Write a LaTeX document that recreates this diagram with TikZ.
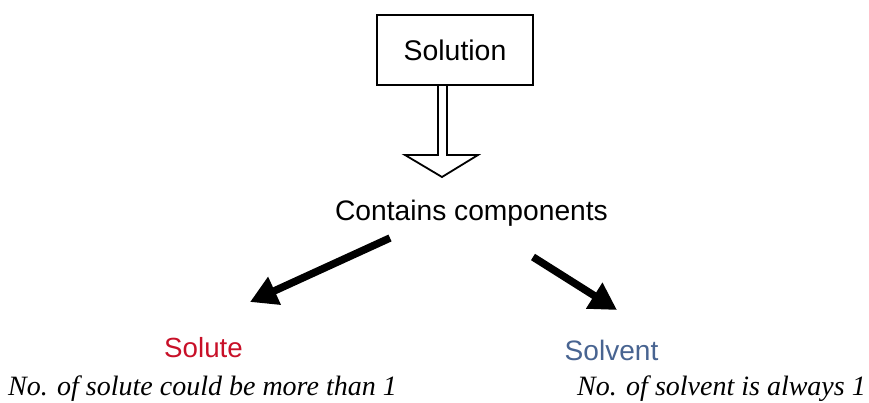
\documentclass[tikz,border=0pt]{standalone}
\usepackage{fontspec}
\setmainfont{Liberation Sans}
\newfontfamily\itserif{Liberation Serif}
\usetikzlibrary{arrows.meta}
\definecolor{soluteRed}{RGB}{200,16,40}
\definecolor{solventBlue}{RGB}{72,100,145}
\tikzset{
  boxnode/.style={draw, line width=2pt, minimum width=156pt, minimum height=70pt, inner sep=0pt, font=\fontsize{28.4}{30}\selectfont},
  labelnode/.style={inner sep=0pt, anchor=base},
  thickarrow/.style={line width=7.5pt, -{Triangle[length=27pt,width=29pt]}},
  notetext/.style={inner sep=0pt, anchor=base, font=\itserif\itshape\fontsize{28}{30}\selectfont}
}
\begin{document}
\begin{tikzpicture}[x=1pt,y=-1pt]
\useasboundingbox (0,0) rectangle (869,402);
\node[boxnode] (solution) at (455,50) {Solution};
\coordinate (shaftL) at (438,85);
\coordinate (shaftR) at (447,85);
\coordinate (tip) at (442,177);
\draw[line width=1.8pt, line join=miter] (shaftL) -- (438,155) -- (405,155) -- (tip) -- (478,155) -- (447,155) -- (shaftR);
\node[labelnode, font=\fontsize{28.2}{30}\selectfont] (contains) at (471.5,220) {Contains components};
\node[labelnode, font=\fontsize{27.7}{30}\selectfont, text=soluteRed] (solute) at (203.5,357) {Solute};
\node[labelnode, font=\fontsize{28.1}{30}\selectfont, text=solventBlue] (solvent) at (611.5,360) {Solvent};
\coordinate (lstart) at (390,238);
\coordinate (lend) at (250,302);
\coordinate (rstart) at (533,257);
\coordinate (rend) at (617,310);
\draw[thickarrow] (lstart) -- (lend);
\draw[thickarrow] (rstart) -- (rend);
\node[notetext] (note1) at (202.5,395) {No. of solute could be more than 1};
\node[notetext] (note2) at (721.5,395) {No. of solvent is always 1};
\end{tikzpicture}
\end{document}
